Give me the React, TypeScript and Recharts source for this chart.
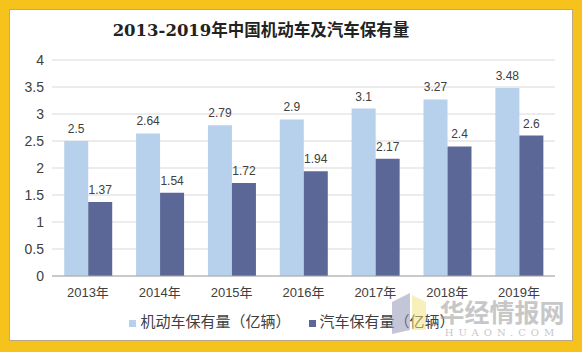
import React from "react";
import { BarChart, Bar, XAxis, YAxis, CartesianGrid, Legend, LabelList } from "recharts";

const years = ["2013年", "2014年", "2015年", "2016年", "2017年", "2018年", "2019年"];
const motorVehicles = [2.5, 2.64, 2.79, 2.9, 3.1, 3.27, 3.48];
const cars = [1.37, 1.54, 1.72, 1.94, 2.17, 2.4, 2.6];
const yTicks = [0, 0.5, 1, 1.5, 2, 2.5, 3, 3.5, 4];

const data = years.map((y, i) => ({ year: y, motor: motorVehicles[i], car: cars[i] }));

const font = "'Liberation Sans', 'Noto Sans CJK SC', sans-serif";

export default function App() {
  return (
    <div style={{ position: "absolute", left: 0, top: 0, width: 582, height: 352, background: "#f6c21c", overflow: "hidden" }}>
      <div style={{ position: "absolute", left: 9, top: 9, width: 562, height: 330, background: "#fff", border: "1px solid #b9a98a" }} />
      <div style={{ position: "absolute", left: 0, top: 0 }}>
        <BarChart width={582} height={352} data={data} margin={{ top: 60, right: 27, left: 0, bottom: 16 }} barCategoryGap="17%" barGap={0}>
          <text x={261} y={36} textAnchor="middle" fontSize={16.5} fontWeight="bold" fill="#222" fontFamily="'DejaVu Serif', 'Noto Sans CJK SC', serif">
            2013-2019年中国机动车及汽车保有量
          </text>
          <CartesianGrid vertical={false} stroke="#d9d9d9" />
          <XAxis dataKey="year" tickLine={false} axisLine={{ stroke: "#a6a6a6" }} tick={{ fontSize: 13, fill: "#404040", fontFamily: font }} tickMargin={6} height={30} />
          <YAxis domain={[0, 4]} ticks={yTicks} width={52} axisLine={false} tickLine={false} tick={{ fontSize: 14, fill: "#404040", fontFamily: font }} />
          <Legend verticalAlign="bottom" iconType="square" iconSize={7} height={30}
            wrapperStyle={{ fontSize: 15, fontFamily: font, left: 10, width: 582, bottom: 12 }}
            formatter={(v) => <span style={{ color: "#404040", paddingRight: 8 }}>{v}</span>} />
          <Bar dataKey="motor" name="机动车保有量（亿辆）" fill="#b7d0ec" isAnimationActive={false}>
            <LabelList dataKey="motor" position="top" offset={8} fontSize={12} fill="#404040" fontFamily={font} />
          </Bar>
          <Bar dataKey="car" name="汽车保有量（亿辆）" fill="#5b6897" isAnimationActive={false}>
            <LabelList dataKey="car" position="top" offset={8} fontSize={12} fill="#404040" fontFamily={font} />
          </Bar>
        </BarChart>
      </div>
      <svg style={{ position: "absolute", left: 0, top: 0, pointerEvents: "none" }} width={582} height={352}>
        <g opacity={0.5}>
          <polygon points="392,302 410,293 410,330 392,334" fill="#8a8fb0" />
          <polygon points="412,295 426,302 426,330 412,330" fill="#f2e27a" />
        </g>
        <text x={502} y={322} textAnchor="middle" fontSize={25} fontWeight="bold" fill="#9a9a9a" opacity={0.55} fontFamily="'Noto Sans CJK SC', sans-serif">华经情报网</text>
        <text x={502} y={336} textAnchor="middle" fontSize={10} letterSpacing={5} fill="#9a9a9a" opacity={0.55} fontFamily="'DejaVu Serif', serif">HUAON.COM</text>
      </svg>
    </div>
  );
}
